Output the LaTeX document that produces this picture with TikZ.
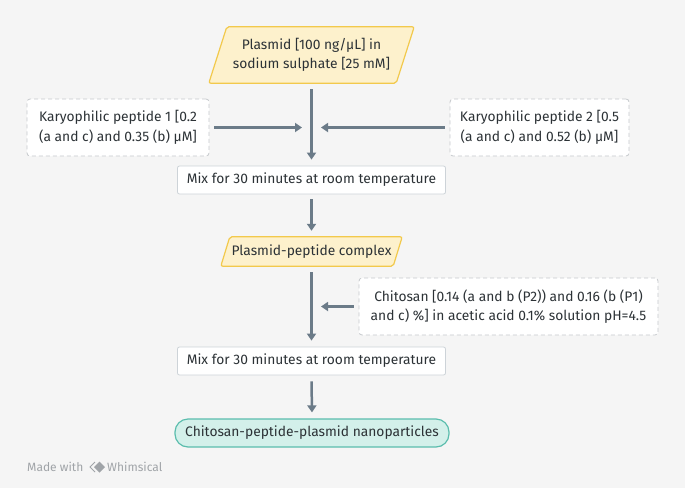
\documentclass[tikz,border=0pt]{standalone}
\usepackage{fontspec}
\setmainfont{Fira Sans}
\usetikzlibrary{arrows.meta,backgrounds}
\definecolor{bg}{HTML}{F5F5F5}
\definecolor{txt}{HTML}{2C3236}
\definecolor{arr}{HTML}{6B7B88}
\definecolor{yfill}{HTML}{FDF1CC}
\definecolor{ydraw}{HTML}{F2C94C}
\definecolor{gfill}{HTML}{D3F0EA}
\definecolor{gdraw}{HTML}{5BBDAD}
\definecolor{boxdraw}{HTML}{CDD3D8}
\definecolor{dashdraw}{HTML}{C6C9CC}
\definecolor{wmark}{HTML}{A0A4A8}
\begin{document}
\begin{tikzpicture}[x=1pt,y=-1pt,
 every node/.style={font=\fontsize{13.8}{19.5}\selectfont, text=txt},
 proc/.style={draw=boxdraw, fill=white, line width=0.8pt, rounded corners=2pt, minimum width=268pt, minimum height=28pt, inner sep=0pt},
 inputbox/.style={draw=dashdraw, dash pattern=on 4pt off 3pt, fill=white, line width=0.8pt, rounded corners=3pt, align=center, inner sep=0pt, minimum height=57pt},
 para/.style={inner sep=0pt, align=center},
 parashape/.style={fill=yfill, draw=ydraw, line width=1.2pt, rounded corners=2pt},
 conn/.style={draw=arr, line width=2.5pt, -{Triangle[length=7pt,width=9pt]}},
 wm/.style={anchor=west, text=wmark, font=\fontsize{12}{13}\selectfont, inner sep=0pt},
 ]
\useasboundingbox (0,0) rectangle (685,488);
\begin{scope}[on background layer]
\fill[bg] (0,0) rectangle (685,488);
\end{scope}

% nodes
\node[para, minimum width=187pt, minimum height=56pt] (plasmid) at (311.5,55) {Plasmid [100 ng/µL] in\\sodium sulphate [25 mM]};
\node[inputbox, minimum width=182pt] (kp1) at (118,127.5) {Karyophilic peptide 1 [0.2\\(a and c) and 0.35 (b) µM]};
\node[inputbox, minimum width=179pt] (kp2) at (539.5,127.5) {Karyophilic peptide 2 [0.5\\(a and c) and 0.52 (b) µM]};
\node[proc] (mix1) at (311.5,180) {Mix for 30 minutes at room temperature};
\node[para, minimum width=172pt, minimum height=29pt] (ppc) at (311.5,251.5) {Plasmid-peptide complex};
\node[inputbox, minimum width=299pt] (chit) at (508.5,306.5) {Chitosan [0.14 (a and b (P2)) and 0.16 (b (P1)\\and c) \%] in acetic acid 0.1\% solution pH=4.5};
\node[proc] (mix2) at (311.5,361) {Mix for 30 minutes at room temperature};
\node[draw=gdraw, fill=gfill, line width=1.2pt, rounded corners=13pt, minimum width=274pt, minimum height=28pt, inner sep=0pt] (final) at (312,433) {Chitosan-peptide-plasmid nanoparticles};

\begin{scope}[on background layer]
\draw[parashape] ([xshift=9pt]plasmid.north west) -- ([xshift=9pt]plasmid.north east) -- ([xshift=-9pt]plasmid.south east) -- ([xshift=-9pt]plasmid.south west) -- cycle;
\draw[parashape] ([xshift=4.5pt]ppc.north west) -- ([xshift=4.5pt]ppc.north east) -- ([xshift=-4.5pt]ppc.south east) -- ([xshift=-4.5pt]ppc.south west) -- cycle;
\end{scope}

% junction points
\coordinate (j1) at (302,127.5);
\coordinate (j2) at (321,127.5);
\coordinate (j3) at (321,306.5);

% connectors
\draw[conn] ([yshift=-6pt]plasmid.south) -- ([yshift=6pt]mix1.north);
\draw[conn] ([xshift=5pt]kp1.east) -- (j1);
\draw[conn] ([xshift=-5pt]kp2.west) -- (j2);
\draw[conn] ([yshift=-5pt]mix1.south) -- ([yshift=6pt]ppc.north);
\draw[conn] ([yshift=-6pt]ppc.south) -- ([yshift=6pt]mix2.north);
\draw[conn] ([xshift=-5pt]chit.west) -- (j3);
\draw[conn] ([yshift=-6pt]mix2.south) -- ([yshift=6pt]final.north);

% watermark
\node[wm] (made) at (27,467) {Made with};
\draw[wmark, line width=1pt] (95,462) -- (90,467) -- (95,472);
\fill[wmark] (99.5,461.5) -- (105,467) -- (99.5,472.5) -- (94,467) -- cycle;
\node[wm] (whim) at (107,467) {Whimsical};
\end{tikzpicture}
\end{document}
